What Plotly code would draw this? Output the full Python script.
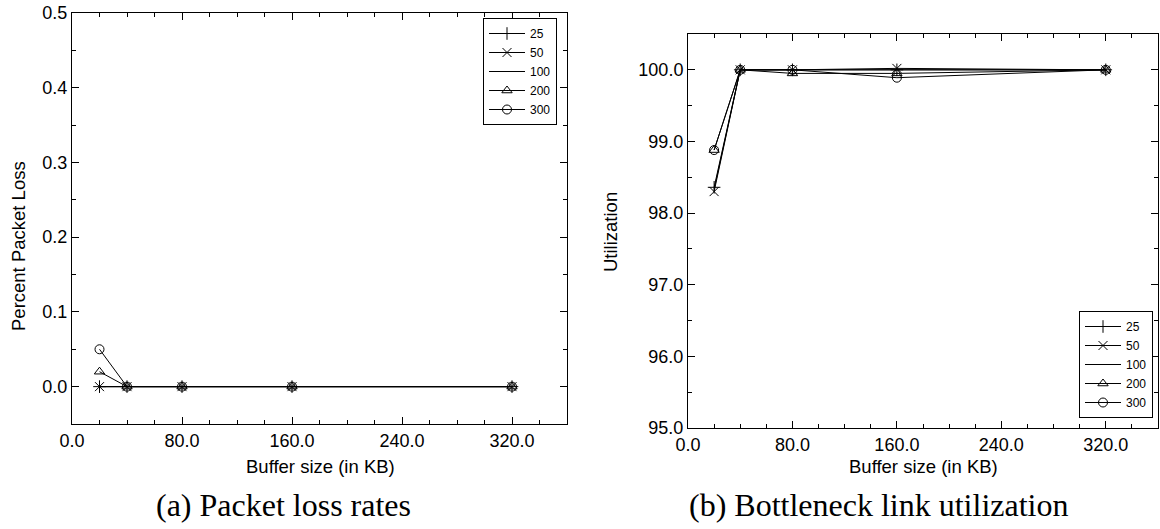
import plotly.graph_objects as go

# ---- data ----
buffer_kb = [20, 40, 80, 160, 320]
series_names = ["25", "50", "100", "200", "300"]

loss_25 = [0.0, 0.0, 0.0, 0.0, 0.0]
loss_50 = [0.0, 0.0, 0.0, 0.0, 0.0]
loss_100 = [0.0, 0.0, 0.0, 0.0, 0.0]
loss_200 = [0.02, 0.0, 0.0, 0.0, 0.0]
loss_300 = [0.05, 0.0, 0.0, 0.0, 0.0]

util_25 = [98.36, 100.0, 100.0, 100.0, 100.0]
util_50 = [98.30, 100.0, 100.0, 100.02, 100.0]
util_100 = [98.33, 100.0, 100.0, 100.0, 100.0]
util_200 = [98.88, 100.0, 99.95, 99.95, 100.0]
util_300 = [98.88, 100.0, 100.0, 99.89, 100.0]

x_ticks = [0, 80, 160, 240, 320]
loss_ticks = [0.0, 0.1, 0.2, 0.3, 0.4, 0.5]
util_ticks = [95, 96, 97, 98, 99, 100]

# ---- style ----
W, H = 1160, 529
SANS = "Liberation Sans, Arial, sans-serif"
SERIF = "Liberation Serif, Times New Roman, serif"
symbols = ["cross-thin-open", "x-thin-open", None, "triangle-up-open", "circle-open"]

loss_sets = [loss_25, loss_50, loss_100, loss_200, loss_300]
util_sets = [util_25, util_50, util_100, util_200, util_300]

fig = go.Figure()


def add_series(ys, name, sym, xa, ya, legend):
    mode = "lines" if sym is None else "lines+markers"
    kw = dict(
        x=buffer_kb, y=ys, name=name, mode=mode,
        line=dict(color="black", width=1),
        xaxis=xa, yaxis=ya, legend=legend,
    )
    if sym is not None:
        kw["marker"] = dict(symbol=sym, size=9, color="black",
                            line=dict(color="black", width=1))
    fig.add_trace(go.Scatter(**kw))


for name, sym, ys in zip(series_names, symbols, loss_sets):
    add_series(ys, name, sym, "x", "y", "legend")
for name, sym, ys in zip(series_names, symbols, util_sets):
    add_series(ys, name, sym, "x2", "y2", "legend2")


def px(v):
    return v / W


def py(v):
    return 1 - v / H


axis_common = dict(
    showline=True, linecolor="black", linewidth=1, mirror="ticks",
    ticks="inside", ticklen=7, tickcolor="black", tickwidth=1,
    showgrid=False, zeroline=False, automargin=False,
    tickfont=dict(family=SANS, size=18, color="black"),
)

fig.update_layout(
    template="none",
    width=W, height=H,
    margin=dict(l=0, r=0, t=0, b=0, pad=0, autoexpand=False),
    paper_bgcolor="white", plot_bgcolor="white",
    font=dict(family=SANS, color="black"),
    xaxis=dict(domain=[px(72), px(567)], range=[0, 360], anchor="y",
               tickvals=x_ticks, ticktext=[f"{v:.1f}" for v in x_ticks],
               minor=dict(dtick=20, tick0=0, ticklen=4, ticks="inside", tickcolor="black"),
               **axis_common),
    yaxis=dict(domain=[py(424), py(13)], range=[-0.05, 0.5], anchor="x",
               tickvals=loss_ticks, ticktext=[f"{v:.1f}" for v in loss_ticks],
               minor=dict(dtick=0.05, tick0=0, ticklen=4, ticks="inside", tickcolor="black"),
               **axis_common),
    xaxis2=dict(domain=[px(688), px(1158)], range=[0, 360], anchor="y2",
                tickvals=x_ticks, ticktext=[f"{v:.1f}" for v in x_ticks],
                minor=dict(dtick=20, tick0=0, ticklen=4, ticks="inside", tickcolor="black"),
                **axis_common),
    yaxis2=dict(domain=[py(428), py(34)], range=[95, 100.5], anchor="x2",
                tickvals=util_ticks, ticktext=[f"{v:.1f}" for v in util_ticks],
                minor=dict(dtick=0.5, tick0=95, ticklen=4, ticks="inside", tickcolor="black"),
                **axis_common),
    legend=dict(x=px(483), y=py(18), xanchor="left", yanchor="top",
                bgcolor="white", bordercolor="black", borderwidth=1,
                font=dict(family=SANS, size=12, color="black"),
                itemwidth=36, tracegroupgap=0),
    legend2=dict(x=px(1079), y=py(418), xanchor="left", yanchor="bottom",
                 bgcolor="white", bordercolor="black", borderwidth=1,
                 font=dict(family=SANS, size=12, color="black"),
                 itemwidth=36, tracegroupgap=0),
    showlegend=True,
)

annotations = [
    dict(text="Buffer size (in KB)", x=px(320), y=py(466), font=dict(family=SANS, size=18.5)),
    dict(text="Buffer size (in KB)", x=px(923), y=py(466), font=dict(family=SANS, size=18.5)),
    dict(text="Percent Packet Loss", x=px(18), y=py(246), textangle=-90,
         font=dict(family=SANS, size=18.5)),
    dict(text="Utilization", x=px(611), y=py(232), textangle=-90,
         font=dict(family=SANS, size=18.5)),
    dict(text="(a) Packet loss rates", x=px(283), y=py(505), font=dict(family=SERIF, size=32)),
    dict(text="(b) Bottleneck link utilization", x=px(878), y=py(505),
         font=dict(family=SERIF, size=32)),
]
for a in annotations:
    a.update(xref="paper", yref="paper", showarrow=False, xanchor="center", yanchor="middle")
    a["font"]["color"] = "black"
fig.update_layout(annotations=annotations)

fig.write_html("out.html")
